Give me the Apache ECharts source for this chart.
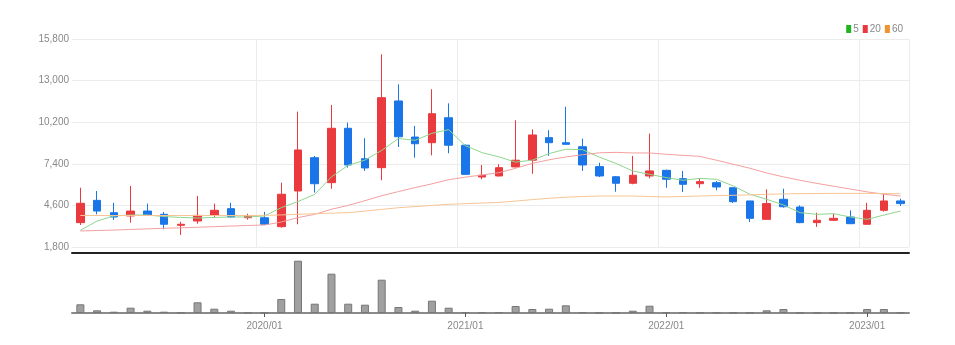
<!DOCTYPE html>
<html>
<head>
<meta charset="utf-8">
<script src="https://cdn.jsdelivr.net/npm/echarts@6/dist/echarts.min.js"></script>
<style>
html,body{margin:0;padding:0;background:#fff;}
#chart{width:955px;height:345px;}
</style>
</head>
<body>
<div id="chart"></div>
<script>
// Monthly categories 2019/02 .. 2023/03
var months = ["2019/02","2019/03","2019/04","2019/05","2019/06","2019/07","2019/08","2019/09","2019/10","2019/11","2019/12",
"2020/01","2020/02","2020/03","2020/04","2020/05","2020/06","2020/07","2020/08","2020/09","2020/10","2020/11","2020/12",
"2021/01","2021/02","2021/03","2021/04","2021/05","2021/06","2021/07","2021/08","2021/09","2021/10","2021/11","2021/12",
"2022/01","2022/02","2022/03","2022/04","2022/05","2022/06","2022/07","2022/08","2022/09","2022/10","2022/11","2022/12",
"2023/01","2023/02","2023/03"];

var openPrices  = [3440,4940,4110,3890,4220,4000,3260,3550,3930,4380,3770,3770,3170,5570,7810,6130,9790,7740,7140,11630,9200,8820,10500,8650,6510,6580,7190,7640,9160,8820,8550,7210,6530,6090,6580,6960,6400,6060,6130,5790,4900,3660,5010,4490,3440,3600,3820,3330,4270,4900];
var closePrices = [4740,4220,3820,4220,3970,3330,3330,3930,4270,3820,3890,3330,5350,8330,6060,9790,7320,7120,11850,9220,8750,10770,8650,6690,6630,7140,7640,9340,8820,8710,7320,6580,6090,6630,6920,6360,6020,6200,5840,4850,3730,4720,4510,3440,3600,3730,3370,4270,4900,4720];
var lowPrices   = [3280,4000,3620,3440,3970,2990,2610,3370,3820,3780,3640,3300,3100,3330,5460,5720,7140,6920,6290,8530,7810,7970,8110,6650,6360,6550,7150,6730,7930,8700,6920,6510,5520,6020,6420,5790,5500,5790,5620,4760,3480,3640,4450,3400,3150,3550,3340,3300,4180,4560];
var highPrices  = [5790,5570,4780,5910,4720,4160,3500,5230,4720,4780,4040,4160,6130,10910,7930,11360,10170,9120,14770,12750,9950,12420,11470,8700,7320,7370,10330,9720,9660,11240,9090,7470,6580,7930,9430,7000,6920,6420,6240,5820,4900,5680,5720,4600,4110,4040,4270,4780,5410,5050];

var ma5  = [2920,3550,3890,3950,3950,3850,3790,3750,3790,3820,3820,3890,4450,4860,5340,6520,7300,7650,8300,9100,8980,9450,9700,8620,8150,7870,7510,7650,8090,8380,8350,7850,7420,6920,6690,6470,6290,6420,6360,5910,5350,5010,4630,4110,4000,4040,3820,3660,3950,4220];
var ma20 = [2880,2910,2940,2980,3020,3060,3090,3130,3170,3210,3250,3280,3480,3780,4000,4340,4600,4920,5250,5530,5800,6050,6330,6500,6650,6800,7100,7430,7670,7860,8010,8140,8170,8130,8130,8040,7970,7900,7640,7370,7100,6780,6520,6290,6080,5890,5700,5510,5350,5230];
var ma60 = [3920,3920,3920,3920,3920,3920,3920,3920,3920,3920,3920,3930,3960,4000,4040,4080,4110,4220,4330,4445,4520,4600,4670,4720,4760,4800,4890,4990,5080,5150,5200,5230,5230,5230,5200,5170,5200,5230,5260,5280,5310,5350,5370,5390,5400,5410,5410,5410,5400,5390];

// volume (thousand shares)
var volume = [8700,2700,1300,5300,2300,1300,300,10700,4300,2300,300,300,14000,52300,9300,39300,9300,8300,33300,6000,2300,12300,5300,1000,700,700,7000,4000,4300,7700,700,200,200,2300,7300,700,700,200,200,200,200,2700,4000,200,200,200,200,4000,4000,200];

var priceTicks = {min: 1800, max: 15800, step: 2800};
var legendNames = ["5","20","60"];

var FONT = "'Liberation Sans Narrow','Liberation Sans',Arial,sans-serif";
function isJan(idx, val){ return String(val).slice(5) === '01'; }

var kData = months.map(function(m, i){ return [openPrices[i], closePrices[i], lowPrices[i], highPrices[i]]; });

var chart = echarts.init(document.getElementById('chart'), null, {renderer:'canvas'});
chart.setOption({
  animation: false,
  backgroundColor: '#fff',
  textStyle: {fontFamily: FONT},
  legend: {
    top: 19, right: 47, itemWidth: 5, itemHeight: 8, itemGap: 4,
    icon: 'rect',
    textStyle: {color: '#888', fontSize: 10, fontFamily: FONT, padding: [0,0,0,-3]},
    data: [
      {name: legendNames[0], itemStyle: {color: '#1fb51f'}},
      {name: legendNames[1], itemStyle: {color: '#e8383d'}},
      {name: legendNames[2], itemStyle: {color: '#f0922f'}}
    ]
  },
  grid: [
    {left: 72, right: 46, top: 39, height: 208},
    {left: 72, right: 46, top: 253, height: 60}
  ],
  xAxis: [
    {type: 'category', gridIndex: 0, data: months, boundaryGap: true,
     axisLine: {show: false}, axisTick: {show: false}, axisLabel: {show: false},
     splitLine: {show: true, interval: isJan, lineStyle: {color: '#ececec', width: 1}}},
    {type: 'category', gridIndex: 1, data: months, boundaryGap: true, position: 'bottom',
     axisLine: {show: true, lineStyle: {color: '#8a8a8a', width: 2}},
     axisTick: {show: true, interval: isJan, alignWithLabel: true, length: 4, lineStyle: {color: '#555'}},
     axisLabel: {show: true, interval: isJan, color: '#888', fontSize: 10, margin: 8, fontFamily: FONT},
     splitLine: {show: false}},
    {type: 'category', gridIndex: 1, data: months, boundaryGap: true, position: 'top',
     axisLine: {show: true, lineStyle: {color: '#222', width: 2}},
     axisTick: {show: false}, axisLabel: {show: false}, splitLine: {show: false}}
  ],
  yAxis: [
    {type: 'value', gridIndex: 0, min: priceTicks.min, max: priceTicks.max, interval: priceTicks.step,
     axisLine: {show: false}, axisTick: {show: false},
     axisLabel: {color: '#888', fontSize: 10, margin: 3, fontFamily: FONT,
       formatter: function(v){ return v.toLocaleString('en-US'); }},
     splitLine: {show: true, lineStyle: {color: '#ececec', width: 1}}},
    {type: 'value', gridIndex: 1, min: 0, max: 60000, show: false, splitLine: {show: false}}
  ],
  series: [
    {type: 'candlestick', name: 'price', xAxisIndex: 0, yAxisIndex: 0, data: kData, barWidth: 8,
     itemStyle: {color: '#ea3a3e', color0: '#1a76e8', borderColor: '#ea3a3e', borderColor0: '#1a76e8', borderWidth: 1}},
    {type: 'line', name: legendNames[0], xAxisIndex: 0, yAxisIndex: 0, data: ma5, showSymbol: false, smooth: false,
     itemStyle: {color: '#1fb51f'}, lineStyle: {color: '#8fd68f', width: 1}},
    {type: 'line', name: legendNames[1], xAxisIndex: 0, yAxisIndex: 0, data: ma20, showSymbol: false,
     itemStyle: {color: '#e8383d'}, lineStyle: {color: '#f3a0a0', width: 1}},
    {type: 'line', name: legendNames[2], xAxisIndex: 0, yAxisIndex: 0, data: ma60, showSymbol: false,
     itemStyle: {color: '#f0922f'}, lineStyle: {color: '#f7c595', width: 1}},
    {type: 'bar', name: 'volume', xAxisIndex: 1, yAxisIndex: 1, data: volume, barWidth: 8,
     itemStyle: {color: '#a0a0a0', borderColor: '#777', borderWidth: 1}}
  ]
});
</script>
</body>
</html>
